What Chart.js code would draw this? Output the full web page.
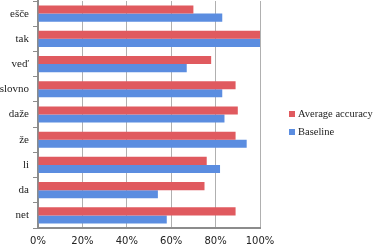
<!DOCTYPE html>
<html><head><meta charset="utf-8">
<script src="https://cdn.jsdelivr.net/npm/chart.js@4"></script>
<style>
html,body{margin:0;padding:0;background:#fff;}
#wrap{position:relative;width:374px;height:247px;}
#legend{position:absolute;left:289px;top:105px;font-family:"Liberation Serif","DejaVu Serif",serif;font-size:10.5px;color:#222;line-height:18px;white-space:nowrap;}
#legend .sw{display:inline-block;width:6px;height:6px;margin-right:3px;vertical-align:0px;}
</style></head>
<body>
<div id="wrap">
<canvas id="c" width="374" height="247"></canvas>
<div id="legend">
<div><span class="sw" style="background:#e05a5f"></span>Average accuracy</div>
<div><span class="sw" style="background:#5b8de0"></span>Baseline</div>
</div>
</div>
<script>
const categories = ["ešče","tak","veď","slovno","daže","že","li","da","net"];
const averageAccuracy = [70,100,78,89,90,89,76,75,89];
const baseline = [83,100,67,83,84,94,82,54,58];
const xTicks = [0,20,40,60,80,100];

new Chart(document.getElementById('c'), {
  type: 'bar',
  data: {
    labels: categories,
    datasets: [
      {label:'Average accuracy', data: averageAccuracy, backgroundColor:'#e05a5f'},
      {label:'Baseline', data: baseline, backgroundColor:'#5b8de0'}
    ]
  },
  options: {
    indexAxis: 'y',
    responsive: false,
    animation: false,
    layout: {padding: {top: 1, right: 114, left: 0, bottom: 0}},
    datasets: {bar: {categoryPercentage: 0.64, barPercentage: 1.0}},
    plugins: {legend: {display: false}, tooltip: {enabled: false}},
    scales: {
      x: {
        min: 0, max: 100,
        afterBuildTicks: (s) => { s.ticks = xTicks.map(v => ({value: v})); },
        afterFit: (s) => { s.height = 19; },
        ticks: {callback: v => v + '%', color:'#222', font:{family:'"DejaVu Sans", sans-serif', size:10}, padding: 7},
        grid: {color:'#b0b0b0', lineWidth:1, drawTicks:false},
        border: {color:'#8c8c8c', width:2}
      },
      y: {
        afterFit: (s) => { s.width = 38; s.paddingTop = 0; s.paddingBottom = 0; },
        ticks: {color:'#222', font:{family:'"Liberation Serif","DejaVu Serif", serif', size:11}, padding: 4},
        grid: {offset: true, drawOnChartArea: false, drawTicks: true, tickLength: 5, color:'#8c8c8c'},
        border: {color:'#8c8c8c', width:2}
      }
    }
  }
});
</script>
</body></html>
